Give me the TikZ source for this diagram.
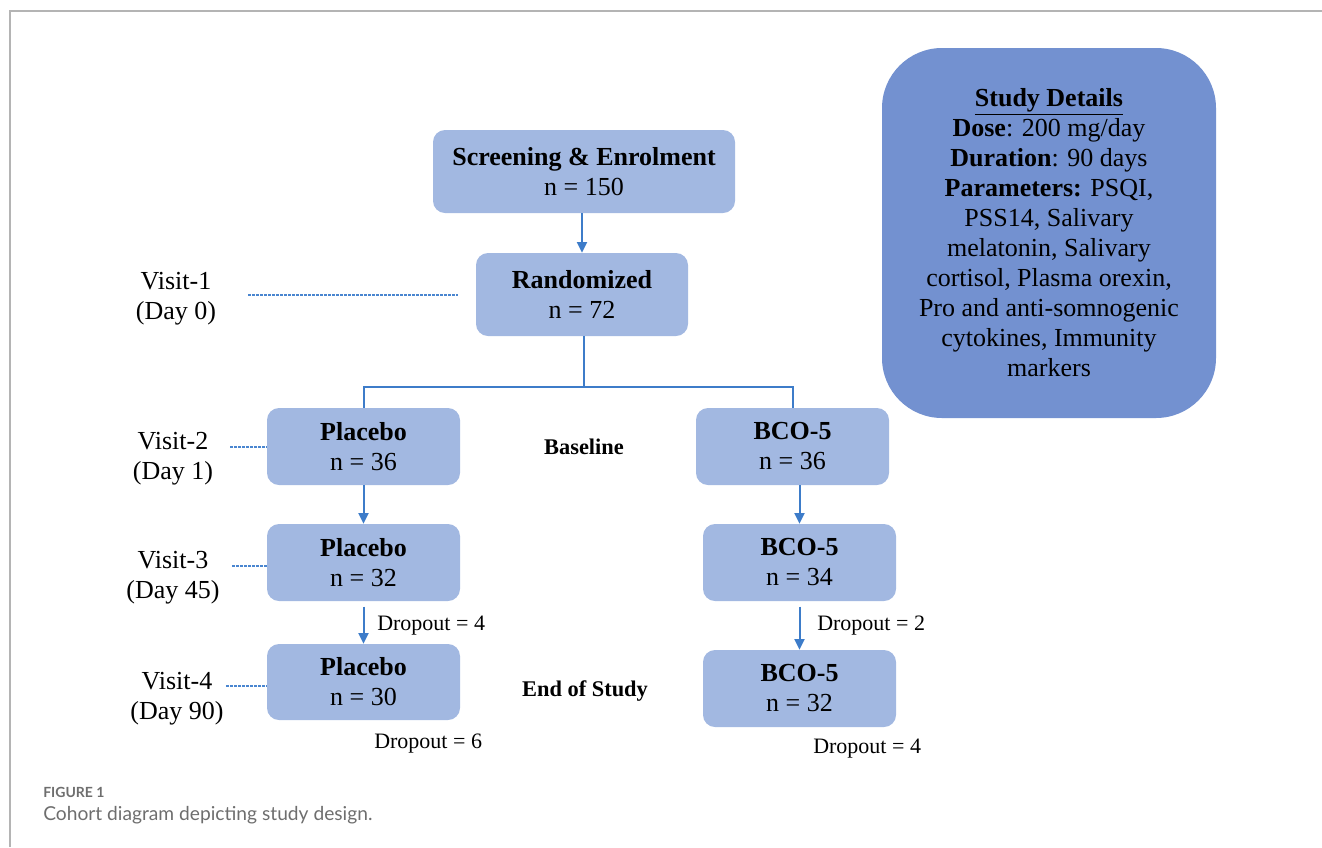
\documentclass[tikz,border=0pt]{standalone}
\usepackage{fontspec}
\setmainfont{Liberation Serif}
\newfontfamily\capfont{Lato}
\usetikzlibrary{arrows.meta}
\definecolor{boxfill}{HTML}{A2B8E1}
\definecolor{sdfill}{HTML}{7391D0}
\definecolor{arrowcol}{HTML}{3D7CC9}
\definecolor{dashcol}{HTML}{4A86D0}
\definecolor{framecol}{HTML}{B4B4B4}
\definecolor{capgray}{HTML}{6E6E6E}
\tikzset{
  x=0.75pt, y=-0.75pt,
  mainfont/.style={font=\fontsize{19.5}{22.5}\selectfont},
  cbox/.style={mainfont, fill=boxfill, draw=none, rounded corners=9pt, align=center, inner sep=0pt},
  sdbox/.style={mainfont, fill=sdfill, draw=none, rounded corners=45pt, align=center, inner sep=0pt, minimum width=250.5pt, minimum height=277.5pt},
  conn/.style={draw=arrowcol, line width=1.5pt},
  arr/.style={conn, -{Triangle[length=8pt,width=7.5pt]}},
  dashln/.style={draw=dashcol, line width=1pt, dash pattern=on 2pt off 1pt},
  visit/.style={mainfont, align=center, inner sep=0pt},
  drop/.style={font=\fontsize{16.5}{19}\selectfont, inner sep=0pt},
  phase/.style={font=\fontsize{16.8}{19}\selectfont\bfseries, inner sep=0pt},
}
\begin{document}
\begin{tikzpicture}
\useasboundingbox (0,0) rectangle (1322,847);
% frame
\draw[framecol, line width=1.5pt] (10,847) -- (10,11) -- (1322,11);

% boxes
\node[cbox, minimum width=226.5pt, minimum height=62.25pt] (scr) at (584,171.5) {\textbf{Screening \& Enrolment}\\n = 150};
\node[cbox, minimum width=159pt, minimum height=62.25pt] (rnd) at (582,294.5) {\textbf{Randomized}\\n = 72};
\node[cbox, minimum width=144.75pt, minimum height=57.75pt] (p1) at (363.5,446.5) {\textbf{Placebo}\\n = 36};
\node[cbox, minimum width=144.75pt, minimum height=57.75pt] (b1) at (792.5,446.5) {\textbf{BCO-5}\\n = 36};
\node[cbox, minimum width=144.75pt, minimum height=57.75pt] (p2) at (363.5,562.5) {\textbf{Placebo}\\n = 32};
\node[cbox, minimum width=144.75pt, minimum height=57.75pt] (b2) at (799.5,562.5) {\textbf{BCO-5}\\n = 34};
\node[cbox, minimum width=144.75pt, minimum height=57pt] (p3) at (363.5,682) {\textbf{Placebo}\\n = 30};
\node[cbox, minimum width=144.75pt, minimum height=57.75pt] (b3) at (799.5,688.5) {\textbf{BCO-5}\\n = 32};

% study details
\node[sdbox] (sd) at (1049,233) {\textbf{\underline{Study Details}}\\
\textbf{Dose}: 200 mg/day\\
\textbf{Duration}: 90 days\\
\textbf{Parameters:} PSQI,\\
PSS14, Salivary\\
melatonin, Salivary\\
cortisol, Plasma orexin,\\
Pro and anti-somnogenic\\
cytokines, Immunity\\
markers};

% connectors
\draw[arr] (rnd.north |- scr.south) -- (rnd.north);
\coordinate (br) at (584,387);
\draw[conn] (rnd.south -| br) -- (br);
\draw[conn] (p1.north) |- (br) -| (b1.north);
\draw[arr] (p1.south) -- (p2.north);
\draw[arr, shorten <=4pt] (p2.south) -- (p3.north);
\draw[arr] (b1.south -| b2.north) -- (b2.north);
\draw[arr, shorten <=4pt] (b2.south) -- (b3.north);

% visit labels
\node[visit] (v1) at (176,299) {Visit-1\\(Day 0)};
\node[visit] (v2) at (173,459) {Visit-2\\(Day 1)};
\node[visit] (v3) at (173,578) {Visit-3\\(Day 45)};
\node[visit] (v4) at (177,699) {Visit-4\\(Day 90)};

\coordinate (v1s) at (248,295);
\coordinate (v1e) at (458,295);
\coordinate (v2s) at (230,447);
\coordinate (v3s) at (232,566);
\coordinate (v4s) at (226,686);
\draw[dashln] (v1s) -- (v1e);
\draw[dashln] (v2s) -- (v2s -| p1.west);
\draw[dashln] (v3s) -- (v3s -| p2.west);
\draw[dashln] (v4s) -- (v4s -| p3.west);

% phase labels
\node[phase] (bl) at (584,447) {Baseline};
\node[phase] (eos) at (585,691) {End of Study};

% dropout labels
\node[drop, anchor=west] (d1) at (377,626) {Dropout = 4};
\node[drop, anchor=west] (d2) at (374,744) {Dropout = 6};
\node[drop, anchor=west] (d3) at (817,626) {Dropout = 2};
\node[drop, anchor=west] (d4) at (813,749) {Dropout = 4};

% caption
\node[anchor=west, inner sep=0pt, font=\capfont\fontsize{10.5}{12}\selectfont\bfseries, text=capgray] (fig) at (43,792) {FIGURE 1};
\node[anchor=west, inner sep=0pt, font=\capfont\fontsize{14.4}{16}\selectfont, text=capgray] (cap) at (43,815) {Cohort diagram depicting study design.};
\end{tikzpicture}
\end{document}
